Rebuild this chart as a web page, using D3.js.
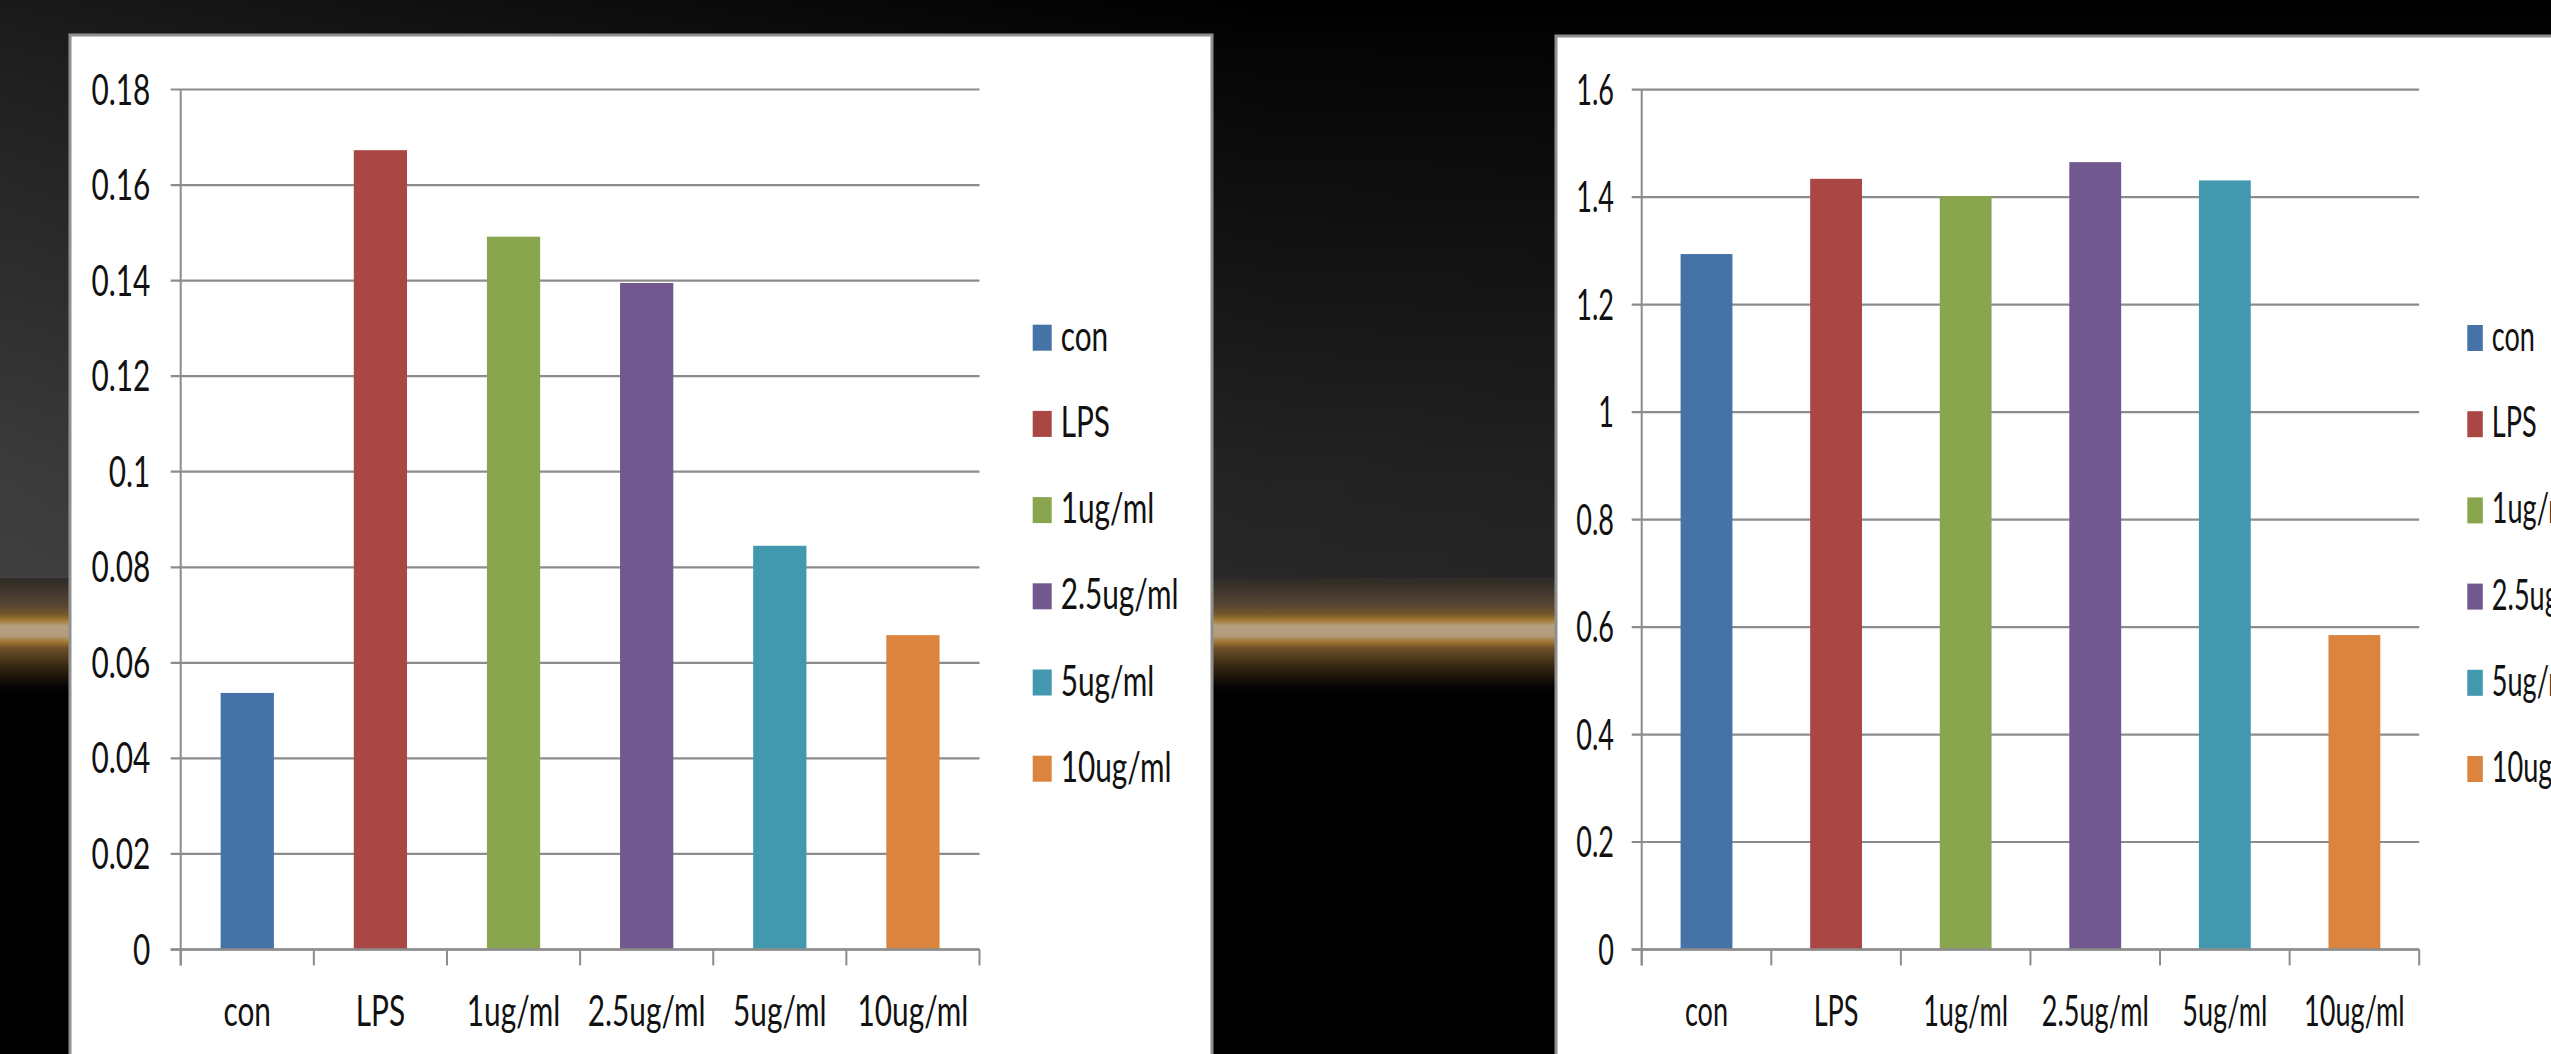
<!DOCTYPE html>
<html>
<head>
<meta charset="utf-8">
<script src="https://cdn.jsdelivr.net/npm/d3@7"></script>
<style>
  html, body { margin: 0; padding: 0; background: #000; overflow: hidden; }
  svg { display: block; }
  text { font-family: Lato, "Open Sans", "Liberation Sans", sans-serif; fill: #111; }
</style>
</head>
<body>
<svg id="slide" width="2551" height="1054"></svg>
<script>
// Treatment groups shared by both charts
const categories = ["con", "LPS", "1ug/ml", "2.5ug/ml", "5ug/ml", "10ug/ml"];
const colors = ["#4572A7", "#AA4643", "#89A54E", "#71588F", "#4198AF", "#DB843D"];

// Left chart values
const leftValues = [0.0537, 0.1673, 0.1492, 0.1395, 0.0845, 0.0658];
const leftTicks = [0, 0.02, 0.04, 0.06, 0.08, 0.1, 0.12, 0.14, 0.16, 0.18];
const leftTickLabels = ["0", "0.02", "0.04", "0.06", "0.08", "0.1", "0.12", "0.14", "0.16", "0.18"];

// Right chart values
const rightValues = [1.294, 1.434, 1.402, 1.465, 1.431, 0.585];
const rightTicks = [0, 0.2, 0.4, 0.6, 0.8, 1, 1.2, 1.4, 1.6];
const rightTickLabels = ["0", "0.2", "0.4", "0.6", "0.8", "1", "1.2", "1.4", "1.6"];

const W = 2551, H = 1054;
const svg = d3.select("#slide");
const defs = svg.append("defs");

// Slide background: dark vertical gradient with a glowing amber stripe
const bg = defs.append("linearGradient").attr("id", "bgGrad")
  .attr("gradientUnits", "userSpaceOnUse").attr("x1", 0).attr("y1", 0).attr("x2", 0).attr("y2", H);
[
  [0, "#000000"], [60, "#060606"], [300, "#181818"], [480, "#262626"], [574, "#2a2a2a"],
  [582, "#332d27"], [594, "#463b2f"], [606, "#5a4632"], [614, "#74572c"], [620, "#a27832"],
  [626, "#b6a080"], [636, "#b29c7a"], [642, "#a07530"], [648, "#6e5028"], [656, "#54401f"],
  [666, "#382812"], [676, "#1e1509"], [686, "#070503"], [694, "#000000"], [H, "#000000"]
].forEach(([y, c]) => bg.append("stop").attr("offset", y / H).attr("stop-color", c));

const shade = defs.append("linearGradient").attr("id", "shadeGrad")
  .attr("gradientUnits", "userSpaceOnUse").attr("x1", 0).attr("y1", 0).attr("x2", W).attr("y2", 0);
shade.append("stop").attr("offset", 0).attr("stop-color", "#fff").attr("stop-opacity", 0.1);
shade.append("stop").attr("offset", 0.5).attr("stop-color", "#000").attr("stop-opacity", 0.08);
shade.append("stop").attr("offset", 1).attr("stop-color", "#000").attr("stop-opacity", 0.3);

svg.append("rect").attr("width", W).attr("height", H).attr("fill", "url(#bgGrad)");
svg.append("rect").attr("width", W).attr("height", 578).attr("fill", "url(#shadeGrad)");

// Horizontal compression of the chart lettering
const FONT = 42;
const probe = svg.append("text").attr("font-size", FONT).text("1ug/ml");
const probeW = probe.node().getComputedTextLength() || 120;
probe.remove();

function label(g, x, y, str, anchor, k) {
  return g.append("text")
    .attr("transform", `translate(${x},${y}) scale(${k},1)`)
    .attr("text-anchor", anchor)
    .attr("font-size", FONT)
    .text(str);
}

function drawChart(cfg) {
  const g = svg.append("g");

  // white chart panel
  g.append("rect")
    .attr("x", cfg.panel[0]).attr("y", cfg.panel[1])
    .attr("width", cfg.panel[2]).attr("height", cfg.panel[3])
    .attr("fill", "#fff").attr("stroke", "#8f8f8f").attr("stroke-width", 3);

  const k = cfg.textWidth / probeW;

  const x = d3.scaleBand().domain(categories)
    .range([cfg.x0, cfg.x1]).paddingInner(0.6).paddingOuter(0.3);
  const y = d3.scaleLinear().domain([0, cfg.max]).range([cfg.yZero, cfg.yTop]);

  // gridlines with their left tick marks
  g.append("g").selectAll("line").data(cfg.ticks).join("line")
    .attr("x1", cfg.x0 - 10).attr("x2", cfg.x1)
    .attr("y1", d => y(d)).attr("y2", d => y(d))
    .attr("stroke", "#8c8c8c").attr("stroke-width", 2.2);

  // value labels
  cfg.ticks.forEach((t, i) => label(g, cfg.x0 - cfg.labelGap, y(t) + 15, cfg.tickLabels[i], "end", k));

  // bars
  g.append("g").selectAll("rect").data(cfg.values).join("rect")
    .attr("x", (d, i) => x(categories[i]))
    .attr("width", x.bandwidth())
    .attr("y", d => y(d))
    .attr("height", d => y(0) - y(d))
    .attr("fill", (d, i) => colors[i]);

  // axes
  g.append("line").attr("x1", cfg.x0).attr("x2", cfg.x0)
    .attr("y1", cfg.yTop).attr("y2", cfg.yZero + 16)
    .attr("stroke", "#8c8c8c").attr("stroke-width", 2);
  g.append("line").attr("x1", cfg.x0 - 10).attr("x2", cfg.x1)
    .attr("y1", cfg.yZero).attr("y2", cfg.yZero)
    .attr("stroke", "#8c8c8c").attr("stroke-width", 2.4);
  const bounds = categories.map(c => x(c) - x.step() * x.paddingInner() / 2).concat([cfg.x1]);
  g.append("g").selectAll("line").data(bounds).join("line")
    .attr("x1", d => d).attr("x2", d => d)
    .attr("y1", cfg.yZero).attr("y2", cfg.yZero + 16)
    .attr("stroke", "#8c8c8c").attr("stroke-width", 2);

  // category labels
  categories.forEach(c => label(g, x(c) + x.bandwidth() / 2, 1026, c, "middle", k));

  // legend
  categories.forEach((c, i) => {
    const base = cfg.legendY + i * 86.2;
    g.append("rect").attr("x", cfg.legendX).attr("y", base - 26)
      .attr("width", cfg.swatchW).attr("height", 26).attr("fill", colors[i]);
    label(g, cfg.legendX + cfg.swatchW + 9, base, c, "start", k);
  });
}

drawChart({
  panel: [70, 35, 1142, 1060],
  x0: 180.7, x1: 979.5, yZero: 949.5, yTop: 89.5,
  max: 0.18, ticks: leftTicks, tickLabels: leftTickLabels, values: leftValues,
  labelGap: 30.5, textWidth: 93.5,
  legendX: 1032.7, swatchW: 19, legendY: 350.7
});

drawChart({
  panel: [1556, 36, 1100, 1060],
  x0: 1641.7, x1: 2419.2, yZero: 949.5, yTop: 89.6,
  max: 1.6, ticks: rightTicks, tickLabels: rightTickLabels, values: rightValues,
  labelGap: 27.7, textWidth: 85,
  legendX: 2467.3, swatchW: 15.5, legendY: 351
});
</script>
</body>
</html>
